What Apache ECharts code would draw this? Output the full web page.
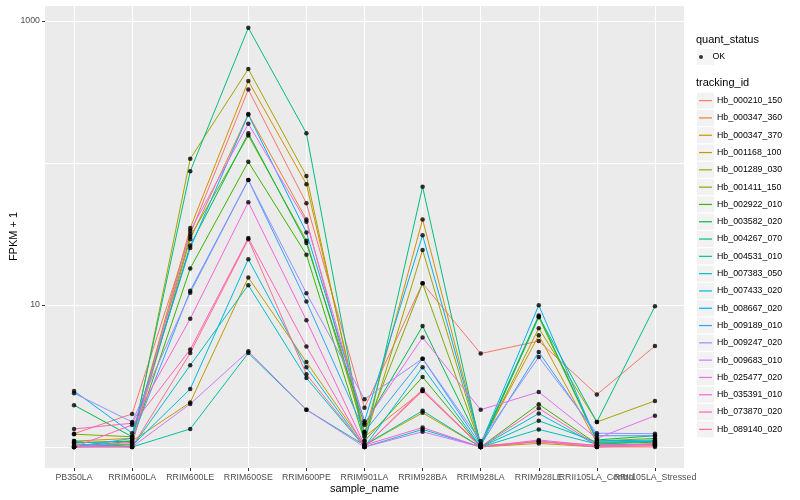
<!DOCTYPE html>
<html>
<head>
<meta charset="utf-8">
<script src="https://cdn.jsdelivr.net/npm/echarts@6/dist/echarts.min.js"></script>
<style>
  html, body { margin: 0; padding: 0; background: #ffffff; }
  #chart { width: 800px; height: 500px; }
</style>
</head>
<body>
<div id="chart"></div>
<script>
// ---- data ----
const categories = ['PB350LA', 'RRIM600LA', 'RRIM600LE', 'RRIM600SE', 'RRIM600PE', 'RRIM901LA',
  'RRIM928BA', 'RRIM928LA', 'RRIM928LE', 'RRII105LA_Control', 'RRII105LA_Stressed'];

const trackingIds = ['Hb_000210_150', 'Hb_000347_360', 'Hb_000347_370', 'Hb_001168_100', 'Hb_001289_030',
  'Hb_001411_150', 'Hb_002922_010', 'Hb_003582_020', 'Hb_004267_070', 'Hb_004531_010',
  'Hb_007383_050', 'Hb_007433_020', 'Hb_008667_020', 'Hb_009189_010', 'Hb_009247_020',
  'Hb_009683_010', 'Hb_025477_020', 'Hb_035391_010', 'Hb_073870_020', 'Hb_089140_020'];

// FPKM + 1 per sample (same order as categories)
const hb_000210_150 = [1.24, 1.71, 31.6, 329, 52, 1.89, 14.2, 4.55, 5.57, 2.34, 5.14];
const hb_000347_360 = [1.02, 1.05, 29.1, 221, 40, 1.18, 2.48, 1.02, 1.09, 1.03, 1.05];
const hb_000347_370 = [1.10, 1.15, 34.8, 378, 71, 1.23, 40, 1.05, 6.11, 1.07, 1.10];
const hb_001168_100 = [1.07, 1.10, 2.06, 15.6, 3.97, 1.03, 1.74, 1.00, 1.06, 1.00, 1.02];
const hb_001289_030 = [1.00, 1.05, 107, 459, 81, 1.10, 24.4, 1.02, 6.87, 1.50, 2.11];
const hb_001411_150 = [1.23, 1.18, 30.3, 156, 28.4, 1.27, 14.2, 1.02, 8.2, 1.10, 1.15];
const hb_002922_010 = [1.00, 1.10, 18.1, 102, 22.6, 1.10, 3.11, 1.00, 2.00, 1.05, 1.08];
const hb_003582_020 = [1.97, 1.18, 26.2, 162, 27.3, 1.43, 7.1, 1.04, 8.44, 1.12, 1.20];
const hb_004267_070 = [1.07, 1.10, 87.5, 896, 162, 1.05, 68, 1.00, 8.3, 1.50, 9.8];
const hb_004531_010 = [1.10, 1.00, 1.34, 4.59, 1.83, 1.03, 1.80, 1.00, 1.53, 1.08, 1.10];
const hb_007383_050 = [1.05, 1.00, 3.76, 13.8, 3.06, 1.00, 1.33, 1.00, 1.33, 1.05, 1.10];
const hb_007433_020 = [1.00, 1.02, 2.56, 21, 3.64, 1.00, 3.64, 1.00, 1.72, 1.03, 1.05];
const hb_008667_020 = [2.48, 1.25, 25.2, 219, 32.4, 1.52, 31, 1.05, 9.96, 1.10, 1.12];
const hb_009189_010 = [1.00, 1.15, 12.6, 76, 10.6, 1.28, 4.19, 1.03, 4.67, 1.20, 1.20];
const hb_009247_020 = [2.39, 1.50, 12.2, 76, 12.1, 2.17, 4.19, 1.10, 4.30, 1.25, 1.24];
const hb_009683_010 = [1.00, 1.00, 2.01, 4.72, 1.83, 1.00, 1.28, 1.00, 1.10, 1.00, 1.05];
const hb_025477_020 = [1.00, 1.08, 33.3, 189, 38.5, 1.47, 5.9, 1.83, 2.44, 1.15, 1.66];
const hb_035391_010 = [1.34, 1.47, 8.0, 53, 7.8, 1.03, 1.37, 1.00, 1.12, 1.02, 1.05];
const hb_073870_020 = [1.00, 1.43, 4.85, 29.6, 5.11, 1.00, 2.55, 1.00, 1.87, 1.03, 1.03];
const hb_089140_020 = [1.00, 1.00, 4.59, 29, 3.25, 1.00, 2.48, 1.00, 1.09, 1.00, 1.00];

const seriesValues = [hb_000210_150, hb_000347_360, hb_000347_370, hb_001168_100, hb_001289_030,
  hb_001411_150, hb_002922_010, hb_003582_020, hb_004267_070, hb_004531_010,
  hb_007383_050, hb_007433_020, hb_008667_020, hb_009189_010, hb_009247_020,
  hb_009683_010, hb_025477_020, hb_035391_010, hb_073870_020, hb_089140_020];

const yTickLabels = [10, 1000];
const quantStatus = 'OK';

// ---- styles ----
const palette = ['#F8766D', '#EA8331', '#D89000', '#C09B00', '#A3A500', '#7CAE00', '#39B600', '#00BB4E',
  '#00BF7D', '#00C1A3', '#00BFC4', '#00BAE0', '#00B0F6', '#35A2FF', '#9590FF', '#C77CFF',
  '#E76BF3', '#FA62DB', '#FF62BC', '#FF6C91'];
const FONT = 'Liberation Sans, Arial, Helvetica, sans-serif';
const yMin = 0.711, yMax = 1297;

const chart = echarts.init(document.getElementById('chart'), null, { renderer: 'canvas', width: 800, height: 500 });

const lineSeries = trackingIds.map((id, i) => ({
  name: id,
  type: 'line',
  xAxisIndex: 0, yAxisIndex: 0,
  data: seriesValues[i],
  showSymbol: false,
  symbol: 'none',
  lineStyle: { color: palette[i], width: 1 },
  itemStyle: { color: palette[i] },
  z: 2,
  silent: true,
  animation: false
}));

const pointData = [];
seriesValues.forEach(arr => arr.forEach((v, j) => pointData.push([categories[j], v])));

const pointSeries = {
  name: quantStatus,
  type: 'scatter',
  xAxisIndex: 0, yAxisIndex: 0,
  data: pointData,
  symbol: 'circle',
  symbolSize: 4.5,
  itemStyle: { color: '#000000' },
  z: 5,
  silent: true,
  animation: false
};

const legendText = { fontFamily: FONT, fontSize: 8.8, color: '#000000', lineHeight: 17.3 };
const hiddenText = { fontFamily: FONT, fontSize: 8.8, color: 'rgba(0,0,0,0)', lineHeight: 17.3 };

const option = {
  animation: false,
  backgroundColor: '#ffffff',
  grid: { left: 45, right: 116, top: 5, bottom: 32, show: true, backgroundColor: '#EBEBEB', borderWidth: 0,
    containLabel: false, outerBoundsMode: 'none' },
  xAxis: [{
    type: 'category',
    data: categories,
    boundaryGap: true,
    name: 'sample_name',
    nameLocation: 'middle',
    nameGap: 15,
    nameMoveOverlap: false,
    nameTextStyle: { fontFamily: FONT, fontSize: 11, color: '#000000' },
    axisLine: { show: false },
    axisTick: { show: true, alignWithLabel: true, length: 3, lineStyle: { color: '#333333', width: 1 } },
    axisLabel: { interval: 0, margin: 5, fontFamily: FONT, fontSize: 8.8, color: '#4D4D4D', hideOverlap: false },
    splitLine: { show: true, alignWithLabel: true, interval: 0, lineStyle: { color: '#FFFFFF', width: 1 } }
  }],
  yAxis: [{
    type: 'log',
    logBase: 10,
    min: yMin, max: yMax,
    position: 'left',
    axisLine: { show: false },
    axisTick: { show: false },
    axisLabel: { show: false },
    splitLine: { show: true, lineStyle: { color: '#FFFFFF', width: 1 } }
  }, {
    type: 'log',
    logBase: 10,
    min: yMin, max: yMax,
    position: 'left',
    offset: 0,
    name: 'FPKM + 1',
    nameLocation: 'middle',
    nameRotate: 90,
    nameGap: 26,
    nameMoveOverlap: false,
    nameTextStyle: { fontFamily: FONT, fontSize: 11, color: '#000000' },
    axisLine: { show: false },
    axisTick: { show: true, length: 3, customValues: yTickLabels, lineStyle: { color: '#333333', width: 1 } },
    axisLabel: { show: true, margin: 5, customValues: yTickLabels, fontFamily: FONT, fontSize: 8.8, color: '#4D4D4D',
      formatter: v => String(Math.round(v)) },
    splitLine: { show: false }
  }],
  legend: [
    { // background keys for quant_status
      orient: 'vertical', left: 697, top: 48.35, padding: 0, itemGap: 0,
      itemWidth: 17, itemHeight: 16, selectedMode: false, z: 1,
      data: [{ name: quantStatus, icon: 'rect', itemStyle: { color: '#F2F2F2' } }],
      textStyle: hiddenText
    },
    {
      orient: 'vertical', left: 699, top: 48.35, padding: 0, itemGap: 0,
      itemWidth: 13, itemHeight: 4, selectedMode: false, z: 3,
      data: [{ name: quantStatus, icon: 'circle', itemStyle: { color: '#000000' } }],
      textStyle: legendText
    },
    { // background keys for tracking_id
      orient: 'vertical', left: 697, top: 92, padding: 0, itemGap: 0,
      itemWidth: 17, itemHeight: 16, selectedMode: false, z: 1,
      data: trackingIds.map(id => ({ name: id, icon: 'rect', itemStyle: { color: '#F2F2F2' } })),
      textStyle: hiddenText
    },
    {
      orient: 'vertical', left: 699, top: 92, padding: 0, itemGap: 0,
      itemWidth: 13, itemHeight: 1.2, selectedMode: false, z: 3,
      data: trackingIds.map((id, i) => ({ name: id, icon: 'rect', itemStyle: { color: palette[i] } })),
      textStyle: legendText
    }
  ],
  graphic: [
    { type: 'text', left: 696, top: 34.5, silent: true,
      style: { text: 'quant_status', font: '11px ' + FONT, fill: '#000000' } },
    { type: 'text', left: 696, top: 77.5, silent: true,
      style: { text: 'tracking_id', font: '11px ' + FONT, fill: '#000000' } }
  ],
  series: lineSeries.concat([pointSeries])
};

chart.setOption(option);
</script>
</body>
</html>
